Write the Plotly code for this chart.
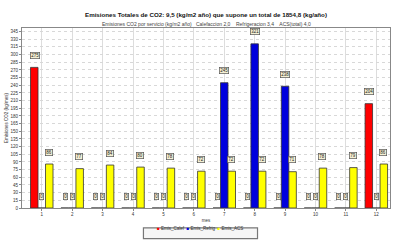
import plotly.graph_objects as go

meses = list(range(1, 13))
emis_calef = [275, 0, 0, 0, 0, 0, 0, 0, 0, 0, 0, 204]
emis_refrig = [0, 0, 0, 0, 0, 0, 245, 321, 238, 0, 0, 0]
emis_acs = [86, 77, 84, 80, 78, 72, 72, 72, 71, 78, 79, 86]
series_names = ["Emis_Calef", "Emis_Refrig", "Emis_ACS"]
series_colors = ["#FF0000", "#0000DD", "#FFFF00"]
titulo = "Emisiones Totales de CO2: 9,5 (kg/m2 año) que supone un total de 1854,8 (kg/año)"
subtitulo = "Emisiones CO2 por servicio (kg/m2 año)   Calefaccion 2,0    Refrigeracion 3,4    ACS(total) 4,0"

fig = go.Figure()
all_series = [emis_calef, emis_refrig, emis_acs]
for name, vals, col in zip(series_names, all_series, series_colors):
    fig.add_trace(go.Bar(x=meses, y=vals, name=name, marker_color=col,
                         marker_line_color="#333333", marker_line_width=0.8,
                         showlegend=False))

# data labels
offsets = [-7, 0, 7]
for vals, off in zip(all_series, offsets):
    for m, v in zip(meses, vals):
        fig.add_annotation(x=m, y=v, text=f"{v:.0f}", showarrow=False,
                           xshift=off, yshift=12,
                           font=dict(size=4.5, color="#222"),
                           bgcolor="#F4F0D4", bordercolor="#555",
                           borderwidth=0.7, borderpad=0.5)

fig.add_annotation(x=0.5, y=1, xref="paper", yref="paper", text=f"<b>{titulo}</b>",
                   showarrow=False, yshift=19, font=dict(size=6.2, color="#111"))
fig.add_annotation(x=0.5, y=1, xref="paper", yref="paper", text=subtitulo,
                   showarrow=False, yshift=9, font=dict(size=5, color="#444"))

# compact legend box
fig.add_shape(type="rect", xref="paper", yref="paper", x0=0.33, x1=0.64,
              y0=-0.17, y1=-0.11, line=dict(color="#777", width=1.2),
              fillcolor="#F6F6F6")
legend_text = "  ".join(
    f'<span style="color:{c}">■</span> {n}' for n, c in zip(series_names, series_colors))
fig.add_annotation(x=0.485, y=-0.14, xref="paper", yref="paper", text=legend_text,
                   showarrow=False, font=dict(size=4.5, color="#333"))

fig.update_layout(
    width=394, height=240,
    margin=dict(l=22, r=4, t=28, b=32),
    paper_bgcolor="white", plot_bgcolor="white",
    font=dict(family="Liberation Sans, Arial, sans-serif", size=5, color="#333"),
    barmode="group", bargap=0.26, bargroupgap=0,
    showlegend=False,
)
fig.update_xaxes(range=[0.35, 12.45], tickmode="array", tickvals=meses,
                 ticktext=[str(m) for m in meses], showgrid=True, gridcolor="#DDDDDD",
                 showline=True, linecolor="#888", mirror=True, zeroline=False,
                 ticks="outside", ticklen=2, tickcolor="#888", automargin=False,
                 title=dict(text="mes", font=dict(size=4.5), standoff=2),
                 tickfont=dict(size=4.5))
fig.update_yaxes(range=[0, 352], dtick=15, showgrid=True, gridcolor="#D8D8D8", griddash="dot",
                 showline=True, linecolor="#888", mirror=True, zeroline=False,
                 ticks="outside", ticklen=2, tickcolor="#888", automargin=False,
                 title=dict(text="Emisiones CO2 (kg/mes)", font=dict(size=4.5), standoff=2),
                 tickfont=dict(size=4.5))

fig.write_html("out.html", config={"displayModeBar": False},
               post_script="document.body.style.margin='0';")
